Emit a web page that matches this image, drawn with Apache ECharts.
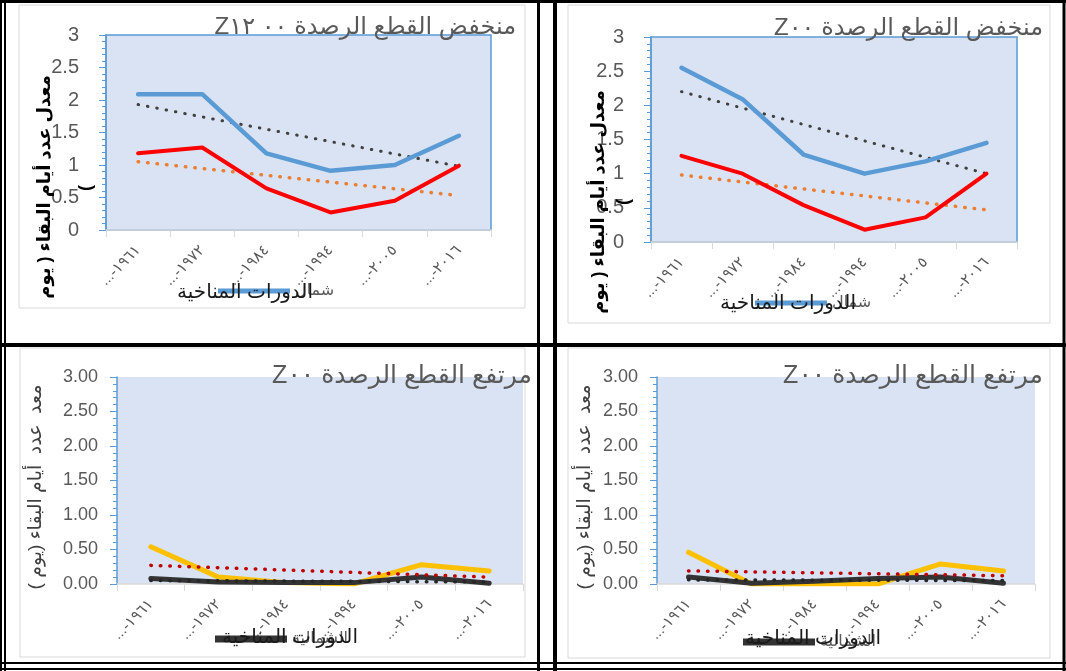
<!DOCTYPE html>
<html><head><meta charset="utf-8">
<script src="https://cdn.jsdelivr.net/npm/echarts@6/dist/echarts.min.js"></script>
<style>html,body{margin:0;padding:0;background:#fff}#c{width:1066px;height:671px}</style>
</head><body><div id="c" dir="rtl"></div>
<script>
// ---------- DATA ----------
const categories = ['١٩٦١', '١٩٧٢', '١٩٨٤', '١٩٩٤', '٢٠٠٥', '٢٠١٦'];
const panelTitles = ['منخفض القطع الرصدة ٠٠ Z١٢', 'منخفض القطع الرصدة Z٠٠', 'مرتفع القطع الرصدة Z٠٠', 'مرتفع القطع الرصدة Z٠٠'];
const xAxisTitle = 'الدورات المناخية';
const yTitleTop = 'معدل عدد أيام البقاء ( يوم';
const yTitleTop2 = ')';
const yTitleBottom = 'معد  عدد  أيام البقاء (يوم )';
const legendTop = 'شمال';
const legendBottom = 'الشمالية';
const otherTop = 'جنوب';
const otherBottom = 'الجنوبية';

// top-left: low cut, 1200Z
const lowZ12North = [2.09, 2.09, 1.18, 0.91, 1.00, 1.45];
const lowZ12South = [1.18, 1.27, 0.64, 0.27, 0.45, 0.99];
const lowZ12NorthTrend = [1.93, 0.98];   // first / last category
const lowZ12SouthTrend = [1.05, 0.53];
// top-right: low cut, 00Z
const lowZ00North = [2.55, 2.09, 1.28, 1.00, 1.18, 1.45];
const lowZ00South = [1.26, 1.00, 0.54, 0.18, 0.36, 1.00];
const lowZ00NorthTrend = [2.20, 1.00];
const lowZ00SouthTrend = [0.98, 0.47];
// bottom-left: high cut
const highANorth = [0.08, 0.03, 0.02, 0.02, 0.10, 0.01];
const highASouth = [0.54, 0.10, 0.02, 0.00, 0.28, 0.19];
const highANorthTrend = [0.05, 0.03];
const highASouthTrend = [0.27, 0.10];
// bottom-right: high cut
const highBNorth = [0.10, 0.01, 0.04, 0.08, 0.10, 0.01];
const highBSouth = [0.46, 0.00, 0.00, 0.00, 0.29, 0.19];
const highBNorthTrend = [0.06, 0.05];
const highBSouthTrend = [0.19, 0.12];

// ---------- LAYOUT ----------
const FF = '"Liberation Sans", "DejaVu Sans", sans-serif';
const panels = [
  {grid:{left:106,top:35,width:385,height:195}, border:true, dec:false, box:[19,5,506,303],
   title:[516,27], tsize:24, yname:[45,187,86,188], ynameBold:true, xname:[245,292], legend:[218,283],
   north:lowZ12North, south:lowZ12South, nt:lowZ12NorthTrend, st:lowZ12SouthTrend, top:true},
  {grid:{left:651,top:37,width:366,height:205}, border:true, dec:false, box:[568,5,482,318],
   title:[1043,28], tsize:24, yname:[599,202,624,202], ynameBold:true, xname:[788,303], legend:[755,295],
   north:lowZ00North, south:lowZ00South, nt:lowZ00NorthTrend, st:lowZ00SouthTrend, top:true},
  {grid:{left:117,top:377,width:406,height:207}, border:false, dec:true, box:[20,348,505,309],
   title:[532,376], tsize:25, yname:[36,487], ynameBold:false, xname:[290,637], legend:[215,631],
   north:highANorth, south:highASouth, nt:highANorthTrend, st:highASouthTrend, top:false},
  {grid:{left:657,top:377,width:378,height:207}, border:false, dec:true, box:[568,348,482,310],
   title:[1043,376], tsize:25, yname:[585,487], ynameBold:false, xname:[813,638], legend:[743,634],
   north:highBNorth, south:highBSouth, nt:highBNorthTrend, st:highBSouthTrend, top:false}
];

const trend = e => categories.map((c, i) => i === 0 ? e[0] : (i === categories.length - 1 ? e[1] : null));

const grids = [], xAxes = [], yAxes = [], series = [], legends = [], graphics = [];

panels.forEach((p, i) => {
  grids.push(Object.assign({show:true, backgroundColor:'#DAE3F3', borderColor:'#5B9BD5', borderWidth:p.border ? 1.5 : 0, containLabel:false}, p.grid));
  xAxes.push({type:'category', gridIndex:i, data:categories, boundaryGap:true,
    axisLine:{show:true, lineStyle:{color:'#D9D9D9', width:1.5}},
    axisTick:{show:true, length:7, lineStyle:{color:'#D9D9D9'}},
    axisLabel:{interval:0, rotate:45, margin:18, color:'#595959', fontSize:15, fontFamily:FF,
      formatter: v => v + '-...'},
    splitLine:{show:false}});
  yAxes.push({type:'value', gridIndex:i, min:0, max:3, interval:0.5,
    axisLine:{show:true, lineStyle:{color:'#5B9BD5', width:1.5}},
    axisTick:{show:true, length:7, lineStyle:{color:'#5B9BD5'}},
    minorTick:{show:true, splitNumber:5, length:4, lineStyle:{color:'#5B9BD5'}},
    splitLine:{show:false}, minorSplitLine:{show:false},
    axisLabel:{margin:p.top ? 27 : 19, color:'#595959', fontSize:p.top ? 20 : 18, fontFamily:FF,
      formatter: v => p.dec ? v.toFixed(2) : String(v)}});
  const base = {type:'line', xAxisIndex:i, yAxisIndex:i, symbol:'none', silent:true, animation:false};
  if (p.top) {
    series.push(Object.assign({}, base, {name:'trend-n-' + i, data:trend(p.nt), connectNulls:true,
      lineStyle:{color:'#404040', width:3, type:[0.5, 9], cap:'round'}}));
    series.push(Object.assign({}, base, {name:'trend-s-' + i, data:trend(p.st), connectNulls:true,
      lineStyle:{color:'#ED7D31', width:3.5, type:[0.5, 9], cap:'round'}}));
    series.push(Object.assign({}, base, {name:otherTop, data:p.south, color:'#FF0000',
      lineStyle:{color:'#FF0000', width:4, cap:'round', join:'round'}}));
    series.push(Object.assign({}, base, {name:legendTop, data:p.north, color:'#5B9BD5',
      lineStyle:{color:'#5B9BD5', width:4.5, cap:'round', join:'round'}}));
  } else {
    series.push(Object.assign({}, base, {name:otherBottom, data:p.south, color:'#FFC000',
      lineStyle:{color:'#FFC000', width:5, cap:'round', join:'round'}}));
    series.push(Object.assign({}, base, {name:legendBottom, data:p.north, color:'#333333',
      lineStyle:{color:'#333333', width:5, cap:'round', join:'round'}}));
    series.push(Object.assign({}, base, {name:'trend-s-' + i, data:trend(p.st), connectNulls:true,
      lineStyle:{color:'#C00000', width:3.5, type:[0.5, 9], cap:'round'}}));
    series.push(Object.assign({}, base, {name:'trend-n-' + i, data:trend(p.nt), connectNulls:true,
      lineStyle:{color:'#262626', width:3.5, type:[0.5, 9], cap:'round'}}));
  }
  legends.push({left:p.legend[0], top:p.legend[1], padding:0, itemWidth:72, itemHeight:p.top ? 5 : 7,
    icon:'rect', selectedMode:false, data:[p.top ? legendTop : legendBottom],
    textStyle:{color:'#595959', fontSize:16, fontFamily:FF}});

  // chart-area box
  graphics.push({type:'rect', z:-10, silent:true,
    shape:{x:p.box[0], y:p.box[1], width:p.box[2], height:p.box[3]},
    style:{fill:'#fff', stroke:'#D9D9D9', lineWidth:1}});
  // title
  graphics.push({type:'text', z:100, silent:true, x:p.title[0], y:p.title[1],
    style:{text:panelTitles[i], align:'right', verticalAlign:'middle', fill:'#595959', font:p.tsize + 'px ' + FF}});
  // x axis title
  graphics.push({type:'text', z:100, silent:true, x:p.xname[0], y:p.xname[1],
    style:{text:xAxisTitle, align:'center', verticalAlign:'middle', fill:'#1a1a1a', font:'20px ' + FF}});
  // y axis title
  graphics.push({type:'text', z:100, silent:true, x:p.yname[0], y:p.yname[1], rotation:Math.PI / 2,
    style:{text:p.top ? yTitleTop : yTitleBottom, align:'center', verticalAlign:'middle',
      fill:p.ynameBold ? '#000' : '#404040', font:(p.ynameBold ? 'bold 18px ' : '19px ') + FF}});
  if (p.top) {
    graphics.push({type:'text', z:100, silent:true, x:p.yname[2], y:p.yname[3], rotation:Math.PI / 2,
      style:{text:yTitleTop2, align:'center', verticalAlign:'middle', fill:'#000', font:'bold 18px ' + FF}});
  }
});

// table borders
const L = (x1, y1, x2, y2, w) => ({type:'line', z:-5, silent:true, shape:{x1, y1, x2, y2}, style:{stroke:'#000', lineWidth:w}});
graphics.push(L(0, 1.5, 1066, 1.5, 3));
graphics.push(L(1, 0, 1, 671, 2));
graphics.push(L(5, 0, 5, 671, 2));
graphics.push(L(1064, 0, 1064, 671, 3));
graphics.push(L(538.5, 0, 538.5, 671, 3));
graphics.push(L(555, 0, 555, 671, 4));
graphics.push(L(0, 345, 1066, 345, 4));
graphics.push(L(0, 663, 1066, 663, 2));
graphics.push(L(0, 669, 1066, 669, 2));

const chart = echarts.init(document.getElementById('c'), null, {renderer:'canvas'});
chart.setOption({
  animation:false,
  backgroundColor:'#fff',
  grid:grids, xAxis:xAxes, yAxis:yAxes, series:series, legend:legends, graphic:graphics
});
</script></body></html>
